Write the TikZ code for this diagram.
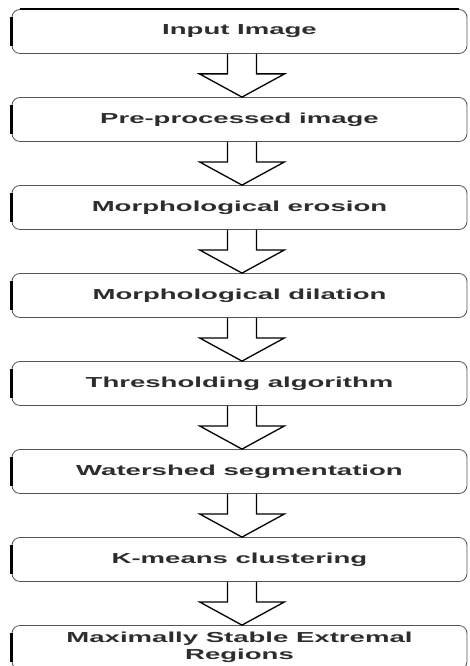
\documentclass[tikz,border=0pt]{standalone}
\usepackage{fontspec}
\usepackage{tikz}
\usetikzlibrary{calc}
\newfontfamily\boxfont[FakeStretch=1.9]{Liberation Sans}
\definecolor{boxline}{RGB}{85,85,85}
\definecolor{boxtext}{RGB}{45,45,45}

\begin{document}
\begin{tikzpicture}[x=1pt,y=-1pt,
  stepbox/.style={draw=boxline,line width=0.8pt,rounded corners=8pt,
    minimum width=455pt,minimum height=44pt,inner sep=0pt,align=center,
    text=boxtext,font=\boxfont\bfseries\fontsize{14.5}{17}\selectfont},
  leftbar/.style={line width=3pt,black},
  blockarrow/.style={line width=1.3pt,black,line join=miter}]

\useasboundingbox (0,0) rectangle (469,666);

%\draw [help lines] (0,0) grid (469,666);
\node[stepbox] (inp) at (239.5,31.5) {Input Image};
\node[stepbox] (pre) at (239.5,119.5) {Pre-processed image};
\node[stepbox] (ero) at (239.5,207.5) {Morphological erosion};
\node[stepbox] (dil) at (239.5,295.5) {Morphological dilation};
\node[stepbox] (thr) at (239.5,383.5) {Thresholding algorithm};
\node[stepbox] (wat) at (239.5,471.5) {Watershed segmentation};
\node[stepbox] (kme) at (239.5,559.5) {K-means clustering};
\node[stepbox] (mser) at (239.5,647.5) {Maximally Stable Extremal\\Regions};

% dark bar on the left side of each box
\foreach \n in {inp,pre,ero,dil,thr,wat,kme,mser}
  \draw[leftbar] ([yshift=-8pt]\n.north west) -- ([yshift=8pt]\n.south west);
\draw [line width=1.5pt]([xshift=8pt]inp.north west)--([xshift=-8pt]inp.north east);

% hollow arrows between the boxes
\foreach \a/\b in {inp/pre,pre/ero,ero/dil,dil/thr,thr/wat,wat/kme,kme/mser}
  \draw[blockarrow] ([xshift=-12pt]\a.south) -- ([xshift=-12pt,yshift=-20pt]\a.south)
    -- ([xshift=-40pt,yshift=-20pt]\a.south) -- ([xshift=2.5pt]\b.north)
    -- ([xshift=45pt,yshift=-20pt]\a.south) -- ([xshift=17pt,yshift=-20pt]\a.south)
    -- ([xshift=17pt]\a.south);

\end{tikzpicture}
\end{document}
